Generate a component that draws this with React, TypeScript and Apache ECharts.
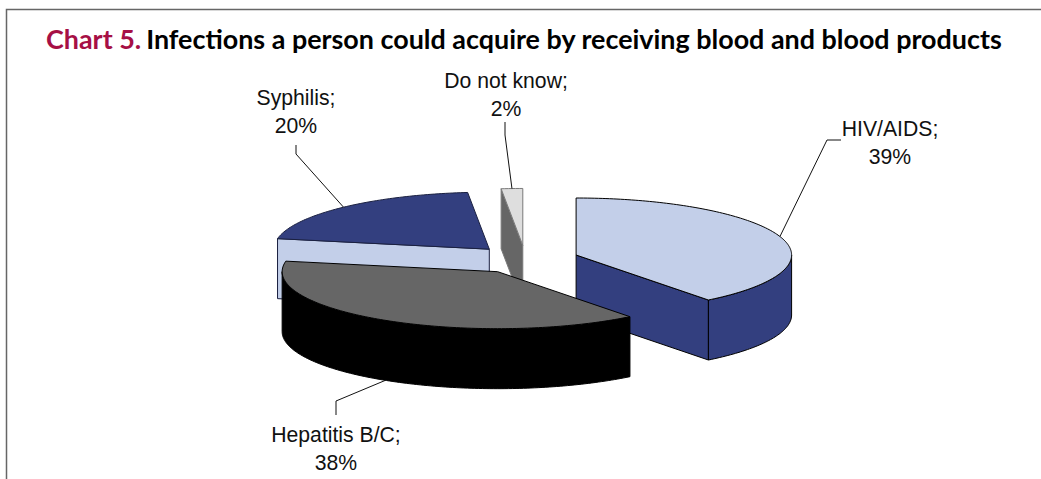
import React, { useEffect, useRef } from "react";
import * as echarts from "echarts";

const categories = ["HIV/AIDS", "Hepatitis B/C", "Syphilis", "Do not know"];
const percentages = [39.4, 38.4, 20.4, 1.6];
const topColors = ["#C3CFE9", "#666666", "#333F7F", "#DEDEDE"];
const sideColors = ["#333F7F", "#000000", "#C3CFE9", "#666666"];
const strokeColors = ["#000000", "#000000", "#1A2040", "#7A7A7A"];
const titleLead = "Chart 5.";
const titleMain = "Infections a person could acquire by receiving blood and blood products";

// pie projection (pixels on the page)
const PIE = { cx: 525.5, cy: 259.6, rx: 215.5, ry: 57, depth: 60, explode: 53.5 };
// leader elbows and label centres, in the order of categories
const LABELS = [
  { x: 890, y: 142, elbow: [[827, 140], [841, 140]], align: "center" },
  { x: 336, y: 448, elbow: [[336, 401], [336, 415]], align: "center" },
  { x: 296, y: 111, elbow: [[296, 154], [296, 145]], align: "center" },
  { x: 506, y: 94, elbow: [[505, 135], [505, 122]], align: "center" },
];

const rad = (d: number) => (d * Math.PI) / 180;
const total = percentages.reduce((a, b) => a + b, 0);

function sliceGeometry(index: number) {
  let start = 0;
  for (let i = 0; i < index; i++) start += (percentages[i] / total) * 360;
  const end = start + (percentages[index] / total) * 360;
  const mid = (start + end) / 2;
  const cx = PIE.cx + PIE.explode * Math.sin(rad(mid));
  const cy = PIE.cy - PIE.explode * (PIE.ry / PIE.rx) * Math.cos(rad(mid));
  return { start, end, mid, cx, cy };
}

const renderSlice = (params: any, api: any) => {
  const i = params.dataIndex;
  const value = api.value(0);
  const { start, end, mid, cx, cy } = sliceGeometry(i);
  const at = (t: number, dz = 0): number[] => [
    cx + PIE.rx * Math.sin(rad(t)),
    cy - PIE.ry * Math.cos(rad(t)) + dz,
  ];
  const arc = (a: number, b: number, dz = 0) => {
    const n = Math.max(2, Math.ceil(Math.abs(b - a)));
    const pts: number[][] = [];
    for (let k = 0; k <= n; k++) pts.push(at(a + ((b - a) * k) / n, dz));
    return pts;
  };
  const z2 = Math.round(cy);
  const stroke = strokeColors[i];
  const poly = (points: number[][], fill: string) => ({
    type: "polygon",
    z2,
    silent: true,
    shape: { points },
    style: { fill, stroke, lineWidth: 1, lineJoin: "round" },
  });
  const children: any[] = [];
  const radialFace = (t: number) =>
    poly(
      [[cx, cy], at(t), at(t, PIE.depth), [cx, cy + PIE.depth]],
      sideColors[i],
    );
  if (Math.sin(rad(start)) < -1e-6) children.push(radialFace(start));
  if (Math.sin(rad(end)) > 1e-6) children.push(radialFace(end));
  const wa = Math.max(start, 90);
  const wb = Math.min(end, 270);
  if (wb > wa) {
    children.push(
      poly([...arc(wa, wb), ...arc(wb, wa, PIE.depth)], sideColors[i]),
    );
  }
  children.push(poly([[cx, cy], ...arc(start, end)], topColors[i]));

  const lab = LABELS[i];
  const anchor = at(mid, mid > 90 && mid < 270 ? PIE.depth : 0);
  children.push({
    type: "polyline",
    z2: 400,
    silent: true,
    shape: { points: [anchor, ...lab.elbow] },
    style: { fill: "none", stroke: "#111111", lineWidth: 1 },
  });
  children.push({
    type: "text",
    z2: 401,
    silent: true,
    x: lab.x,
    y: lab.y,
    style: {
      text: `${categories[i]};\n${Math.round(value)}%`,
      font: '21.2px "Liberation Sans", Arial, sans-serif',
      lineHeight: 28,
      fill: "#111111",
      align: lab.align,
      verticalAlign: "middle",
    },
  });
  return { type: "group", children };
};

export default function App() {
  const ref = useRef<HTMLDivElement>(null);
  useEffect(() => {
    const chart = echarts.init(ref.current!, null, { renderer: "svg" });
    chart.setOption({
      animation: false,
      backgroundColor: "#FFFFFF",
      title: {
        left: 41,
        top: 20,
        text: `{a|${titleLead}} {b|${titleMain}}`,
        textStyle: {
          rich: {
            a: { fontFamily: "Lato, sans-serif", fontWeight: "bold", fontSize: 26.9, color: "#A60F45" },
            b: { fontFamily: "Lato, sans-serif", fontWeight: "bold", fontSize: 26.9, color: "#000000" },
          },
        },
      },
      graphic: [
        {
          type: "polyline",
          silent: true,
          shape: { points: [[6.5, 479], [6.5, 9.5], [1041, 9.5]] },
          style: { fill: "none", stroke: "#666666", lineWidth: 1.5 },
        },
      ],
      series: [
        {
          type: "custom",
          coordinateSystem: "none",
          silent: true,
          data: percentages.map((v) => [v]),
          renderItem: renderSlice,
        },
      ],
    });
    return () => chart.dispose();
  }, []);
  return (
    <div
      ref={ref}
      style={{ position: "absolute", left: 0, top: 0, width: 1041, height: 479 }}
    />
  );
}
